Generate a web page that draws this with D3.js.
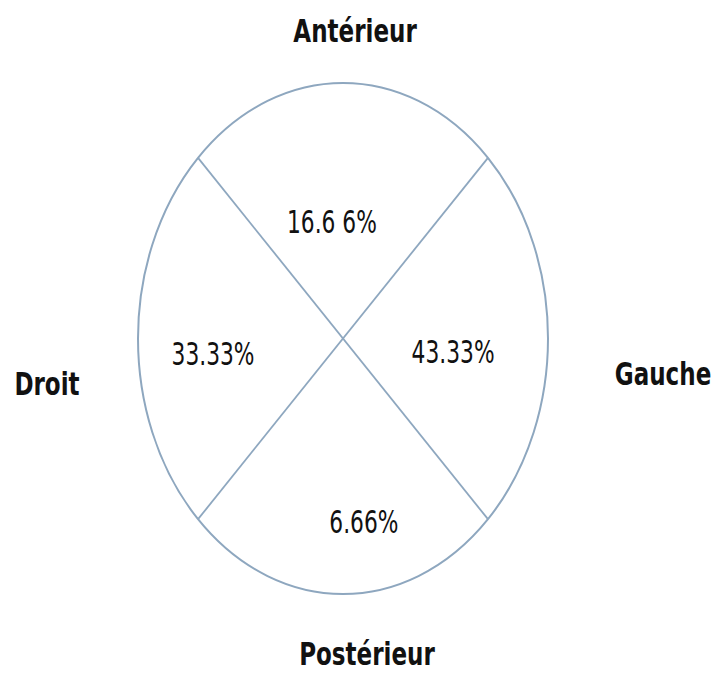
<!DOCTYPE html>
<meta charset="utf-8">
<style>
body { margin: 0; background: #fff; }
text { font-family: "DejaVu Sans", sans-serif; fill: #111; }
.side { font-weight: bold; font-size: 32px; }
.pct { font-size: 32px; }
</style>
<svg width="716" height="673"></svg>
<script src="https://cdn.jsdelivr.net/npm/d3@7"></script>
<script>

// quadrants: top, left, right, bottom
var sides = ["Antérieur", "Droit", "Gauche", "Postérieur"];
var values = [16.66, 33.33, 43.33, 6.66];
var valueLabels = ["16.6 6%", "33.33%", "43.33%", "6.66%"];

// label placement in unit-ellipse coordinates
var sidePos = [[0.059, -1.16], [-1.444, 0.221], [1.561, 0.182], [0.117, 1.278]];
var valuePos = [[-0.054, -0.413], [-0.634, 0.104], [0.537, 0.096], [0.102, 0.761]];

var svg = d3.select("svg");

var x = d3.scaleLinear().domain([-1, 1]).range([138, 548]),
    y = d3.scaleLinear().domain([-1, 1]).range([83, 594]);

var stroke = "#8ea7bf";

svg.append("ellipse")
    .attr("cx", x(0))
    .attr("cy", y(0))
    .attr("rx", x(1) - x(0))
    .attr("ry", y(1) - y(0))
    .attr("fill", "none")
    .attr("stroke", stroke)
    .attr("stroke-width", 2);

var k = Math.SQRT1_2;
var diagonals = [[[-k, -k], [k, k]], [[k, -k], [-k, k]]];

svg.selectAll(".diag")
  .data(diagonals)
  .enter().append("line")
    .attr("class", "diag")
    .attr("x1", function(d) { return x(d[0][0]); })
    .attr("y1", function(d) { return y(d[0][1]); })
    .attr("x2", function(d) { return x(d[1][0]); })
    .attr("y2", function(d) { return y(d[1][1]); })
    .attr("stroke", stroke)
    .attr("stroke-width", 1.8);

// the reference uses a condensed face, so squeeze the text horizontally
svg.selectAll(".side")
  .data(sides)
  .enter().append("text")
    .attr("class", "side")
    .attr("text-anchor", "middle")
    .attr("transform", function(d, i) {
      return "translate(" + x(sidePos[i][0]) + "," + y(sidePos[i][1]) + ") scale(0.72,1)";
    })
    .text(function(d) { return d; });

svg.selectAll(".pct")
  .data(values)
  .enter().append("text")
    .attr("class", "pct")
    .attr("text-anchor", "middle")
    .attr("transform", function(d, i) {
      return "translate(" + x(valuePos[i][0]) + "," + y(valuePos[i][1]) + ") scale(0.68,1)";
    })
    .text(function(d, i) { return valueLabels[i]; });

</script>
